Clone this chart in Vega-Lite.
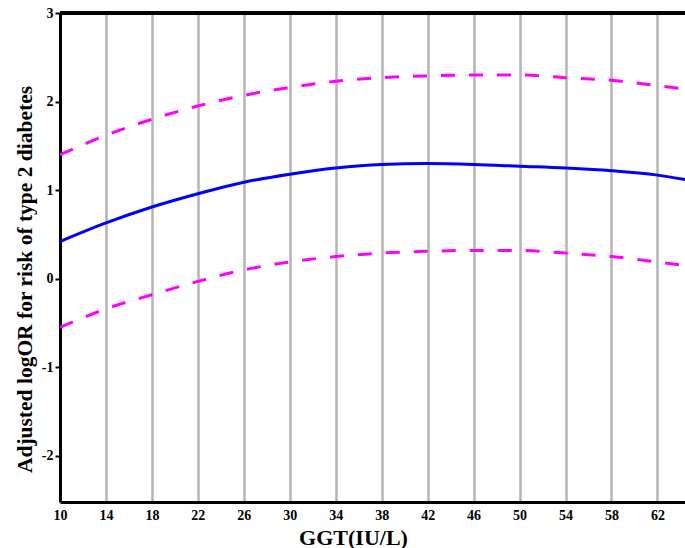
{
  "$schema": "https://vega.github.io/schema/vega-lite/v6.json",
  "autosize": {"type": "none"},
  "padding": {"left": 60, "top": 13, "right": 0, "bottom": 46},
  "width": 625,
  "height": 489,
  "background": "white",
  "config": {"view": {"stroke": null}},
  "data": {
    "values": [
      {"ggt": 10, "est": 0.42, "lo": -0.55, "hi": 1.40},
      {"ggt": 14, "est": 0.63, "lo": -0.34, "hi": 1.62},
      {"ggt": 18, "est": 0.81, "lo": -0.18, "hi": 1.80},
      {"ggt": 22, "est": 0.96, "lo": -0.03, "hi": 1.95},
      {"ggt": 26, "est": 1.09, "lo": 0.10, "hi": 2.07},
      {"ggt": 30, "est": 1.18, "lo": 0.19, "hi": 2.16},
      {"ggt": 34, "est": 1.25, "lo": 0.25, "hi": 2.23},
      {"ggt": 38, "est": 1.29, "lo": 0.29, "hi": 2.27},
      {"ggt": 42, "est": 1.30, "lo": 0.31, "hi": 2.29},
      {"ggt": 46, "est": 1.29, "lo": 0.32, "hi": 2.30},
      {"ggt": 50, "est": 1.27, "lo": 0.32, "hi": 2.30},
      {"ggt": 54, "est": 1.25, "lo": 0.29, "hi": 2.27},
      {"ggt": 58, "est": 1.22, "lo": 0.25, "hi": 2.24},
      {"ggt": 62, "est": 1.17, "lo": 0.19, "hi": 2.18},
      {"ggt": 64.4, "est": 1.12, "lo": 0.15, "hi": 2.14}
    ]
  },
  "layer": [
    {
      "mark": {"type": "line", "color": "#0000ff", "strokeWidth": 3, "interpolate": "monotone", "clip": true},
      "encoding": {
        "x": {
          "field": "ggt", "type": "quantitative",
          "scale": {"domain": [10, 64.4], "nice": false, "zero": false},
          "axis": {
            "values": [10, 14, 18, 22, 26, 30, 34, 38, 42, 46, 50, 54, 58, 62],
            "grid": true, "gridColor": "#b4b4b4", "gridWidth": 2.5,
            "domainColor": "black", "domainWidth": 3,
            "ticks": false,
            "labelFont": "Liberation Serif", "labelFontWeight": "bold", "labelFontSize": 14, "labelColor": "black",
            "labelPadding": 6, "labelFlush": false,
            "title": "GGT(IU/L)",
            "titleFont": "Liberation Serif", "titleFontWeight": "bold", "titleFontSize": 22, "titleColor": "black",
            "titleX": 293, "titleY": 42, "titleAnchor": null, "titleAlign": "center", "titleBaseline": "alphabetic"
          }
        },
        "y": {
          "field": "est", "type": "quantitative",
          "scale": {"domain": [-2.52, 3], "nice": false, "zero": false},
          "axis": {
            "values": [-2, -1, 0, 1, 2, 3],
            "labelExpr": "'' + datum.value",
            "grid": false,
            "domainColor": "black", "domainWidth": 3,
            "tickColor": "black", "tickWidth": 2, "tickSize": 5,
            "labelFont": "Liberation Serif", "labelFontWeight": "bold", "labelFontSize": 14, "labelColor": "black",
            "labelPadding": 2, "labelFlush": false,
            "title": "Adjusted logOR for risk of type 2 diabetes",
            "titleFont": "Liberation Serif", "titleFontWeight": "bold", "titleFontSize": 21.5, "titleColor": "black",
            "titleX": -35, "titleY": 266, "titleAngle": 270, "titleAlign": "center", "titleBaseline": "middle", "titleAnchor": null
          }
        }
      }
    },
    {
      "mark": {"type": "line", "color": "#ff00ff", "strokeWidth": 3, "strokeDash": [14, 14], "interpolate": "monotone", "clip": true},
      "encoding": {
        "x": {"field": "ggt", "type": "quantitative"},
        "y": {"field": "hi", "type": "quantitative"}
      }
    },
    {
      "mark": {"type": "line", "color": "#ff00ff", "strokeWidth": 3, "strokeDash": [14, 14], "interpolate": "monotone", "clip": true},
      "encoding": {
        "x": {"field": "ggt", "type": "quantitative"},
        "y": {"field": "lo", "type": "quantitative"}
      }
    },
    {
      "mark": {"type": "rule", "color": "black", "strokeWidth": 3},
      "encoding": {"y": {"datum": 3, "type": "quantitative"}}
    }
  ]
}
